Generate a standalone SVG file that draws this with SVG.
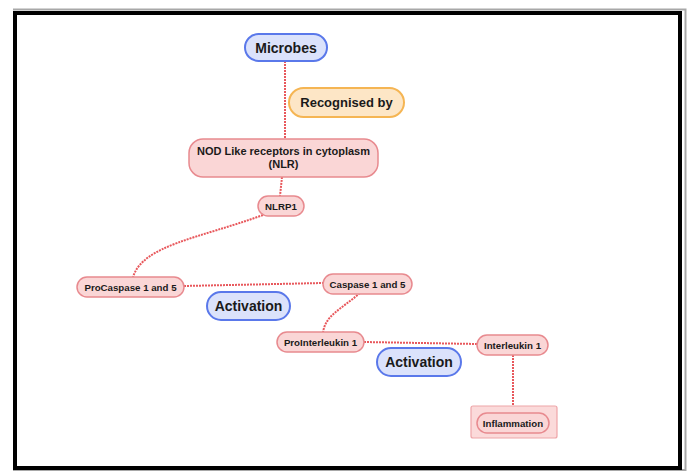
<svg xmlns="http://www.w3.org/2000/svg" width="689" height="471" viewBox="0 0 689 471">
<style>
text{font-family:"Liberation Sans",Arial,sans-serif;font-weight:bold;fill:#1a1a1a;text-anchor:middle}
.blue{fill:#dbe2fb;stroke:#5a78ea;stroke-width:2}
.orange{fill:#fde6c6;stroke:#f5b553;stroke-width:2}
.pink{fill:#fad6d6;stroke:#e88a8f;stroke-width:1.5}
.box{fill:#fbdada;stroke:#eea5a8;stroke-width:1.2}
.big{font-size:14px}
.mid{font-size:11px}
.sm{font-size:9.7px}
.conn{fill:none;stroke:#e8585c;stroke-width:2;stroke-dasharray:2 1}
</style>
<rect x="0" y="0" width="689" height="471" fill="#ffffff"/>
<path d="M13,9.5 L685.5,9.5 L685.5,471" fill="none" stroke="#a8a8a8" stroke-width="2"/>
<path d="M13,470 L686,470" fill="none" stroke="#a8a8a8" stroke-width="2"/>
<rect x="15" y="13" width="665" height="455" fill="#ffffff" stroke="#000000" stroke-width="4"/>
<g id="connectors">
<path class="conn" d="M285,61 L285,139"/>
<path class="conn" d="M282,177 L280,196"/>
<path class="conn" d="M263,215 C200,238 143,245 133,277"/>
<path class="conn" d="M184,286 L323,283"/>
<path class="conn" d="M360,293 C340,310 326,315 323,332"/>
<path class="conn" d="M364,342 L477,344"/>
<path class="conn" d="M513,355 L513,413"/>
</g>
<g id="microbes"><rect class="blue" x="245" y="34" width="82" height="27" rx="13.5"/><text class="big" x="286" y="52.5">Microbes</text></g>
<g id="recognised"><rect class="orange" x="289" y="88" width="115" height="29" rx="14.5"/><text x="346.5" y="107" style="font-size:13px">Recognised by</text></g>
<g id="nlr"><rect class="pink" x="189" y="139" width="189" height="38" rx="14"/><text class="mid" x="283.5" y="155">NOD Like receptors in cytoplasm</text><text class="mid" x="283.5" y="168">(NLR)</text></g>
<g id="nlrp1"><rect class="pink" x="258" y="196" width="46" height="20" rx="10"/><text class="sm" x="281" y="209.5">NLRP1</text></g>
<g id="procaspase"><rect class="pink" x="77" y="277" width="107" height="20" rx="10"/><text class="sm" x="130.5" y="290.5">ProCaspase 1 and 5</text></g>
<g id="caspase"><rect class="pink" x="323" y="274" width="89" height="20" rx="10"/><text class="sm" x="367.5" y="287.5">Caspase 1 and 5</text></g>
<g id="activation1"><rect class="blue" x="207" y="292" width="83" height="28" rx="14"/><text class="big" x="248.5" y="311">Activation</text></g>
<g id="prointerleukin"><rect class="pink" x="277" y="332" width="87" height="20" rx="10"/><text class="sm" x="320.5" y="345.5">ProInterleukin 1</text></g>
<g id="interleukin"><rect class="pink" x="477" y="335" width="71" height="20" rx="10"/><text class="sm" x="512.5" y="348.5">Interleukin 1</text></g>
<g id="activation2"><rect class="blue" x="377" y="348" width="84" height="28" rx="14"/><text class="big" x="419" y="367">Activation</text></g>
<g id="inflammation"><rect class="box" x="471" y="406" width="86" height="32" rx="2"/><rect class="pink" x="477" y="413" width="72" height="20" rx="10"/><text class="sm" x="513" y="426.5">Inflammation</text></g>
</svg>
